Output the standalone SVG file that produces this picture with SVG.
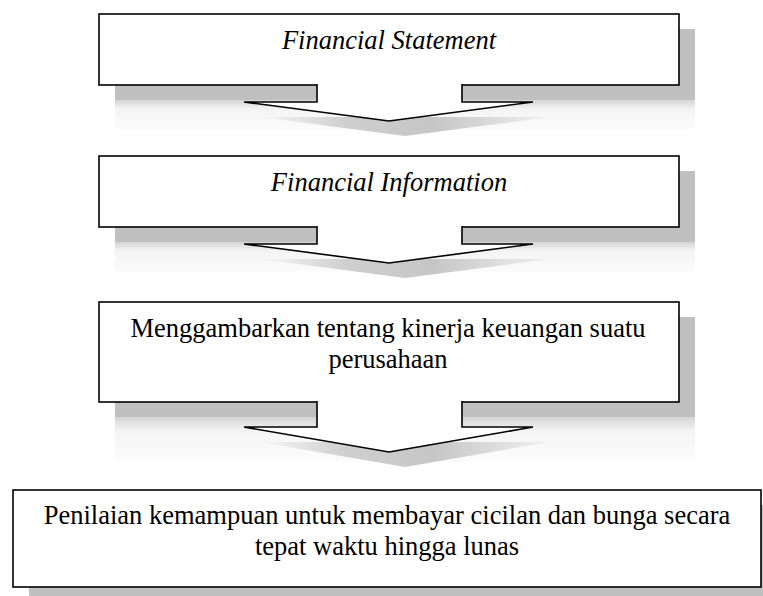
<svg xmlns="http://www.w3.org/2000/svg" width="763" height="596" viewBox="0 0 763 596">
  <style>
    .box { fill: #ffffff; stroke: #000000; stroke-width: 1.6; }
    .arrow { fill: #ffffff; stroke: #000000; stroke-width: 1.6; stroke-linejoin: miter; }
    .shadow { fill: #c0c0c0; }
    .ashadow { fill: url(#ahead); }
    .fade { fill: url(#vfade); }
    .t { font-family: "Liberation Serif", "Times New Roman", serif; font-size: 26.5px; fill: #000000; text-anchor: middle; }
    .i { font-style: italic; }
  </style>
  <defs>
    <linearGradient id="ahead" x1="0" y1="0" x2="1" y2="0">
      <stop offset="0" stop-color="#f6f6f6"/>
      <stop offset="0.3" stop-color="#cfcfcf"/>
      <stop offset="0.6" stop-color="#c6c6c6"/>
      <stop offset="1" stop-color="#f0f0f0"/>
    </linearGradient>
    <linearGradient id="vfade" x1="0" y1="0" x2="0" y2="1">
      <stop offset="0" stop-color="#d4d4d4"/>
      <stop offset="0.3" stop-color="#f4f4f4"/>
      <stop offset="1" stop-color="#fcfcfc"/>
    </linearGradient>
  </defs>

  <g id="shadows">
    <!-- box 1 -->
    <rect class="fade" x="115" y="100" width="580" height="30"/>
    <rect class="shadow" x="115" y="29" width="580" height="71"/>
    <polygon class="ashadow" points="260,117 549,117 405,136"/>
    <!-- box 2 -->
    <rect class="fade" x="115" y="242" width="580" height="30"/>
    <rect class="shadow" x="115" y="171" width="580" height="71"/>
    <polygon class="ashadow" points="260,259 549,259 405,278"/>
    <!-- box 3 -->
    <rect class="fade" x="115" y="417" width="580" height="45"/>
    <rect class="shadow" x="115" y="317" width="580" height="100"/>
    <polygon class="ashadow" points="260,442 549,442 405,467"/>
    <!-- box 4 -->
    <rect class="shadow" x="29" y="505" width="748" height="97"/>
  </g>

  <g id="node-financial-statement">
    <rect class="box" x="99" y="14" width="580" height="71"/>
    <text class="t i" x="389" y="49">Financial Statement</text>
  </g>

  <g id="node-financial-information">
    <rect class="box" x="99" y="156" width="580" height="71"/>
    <text class="t i" x="389" y="191">Financial Information</text>
  </g>

  <g id="node-kinerja">
    <rect class="box" x="99" y="302" width="580" height="100"/>
    <text class="t" x="388" y="337">Menggambarkan tentang kinerja keuangan suatu</text>
    <text class="t" x="388" y="367.5">perusahaan</text>
  </g>

  <g id="node-penilaian">
    <rect class="box" x="13" y="490" width="748" height="97"/>
    <text class="t" x="387" y="524">Penilaian kemampuan untuk membayar cicilan dan bunga secara</text>
    <text class="t" x="387" y="554.5">tepat waktu hingga lunas</text>
  </g>

  <g id="connectors">
    <path class="arrow" d="M317,84 V102 H244 L389,121 L533,102 H462 V84"/>
    <path class="arrow" d="M317,226 V244 H244 L389,263 L533,244 H462 V226"/>
    <path class="arrow" d="M317,401 V427 H244 L389,452 L533,427 H462 V401"/>
  </g>
</svg>
